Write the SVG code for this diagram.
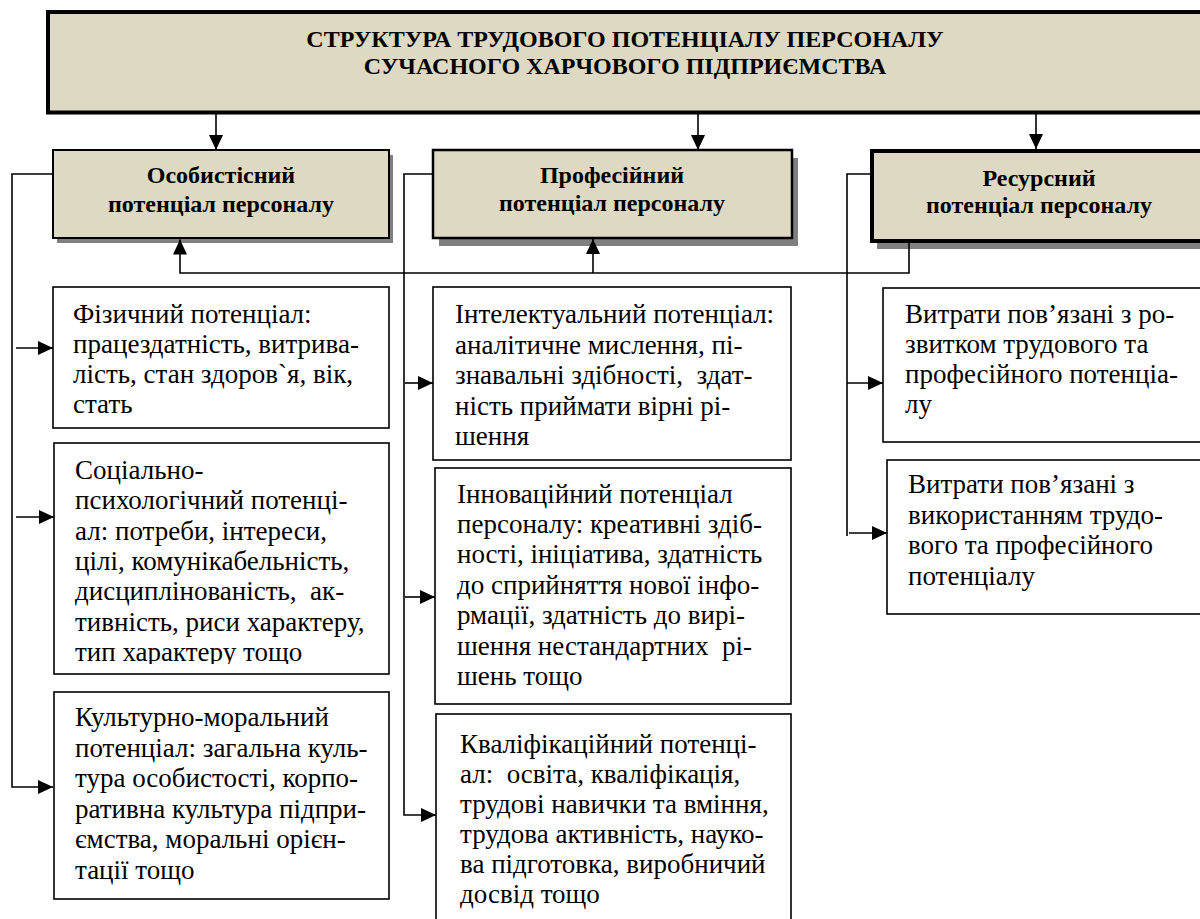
<svg xmlns="http://www.w3.org/2000/svg" width="1200" height="919" viewBox="0 0 1200 919" font-family="Liberation Serif, DejaVu Serif, serif">
<style>
  .hdr { fill: #DDD9C3; stroke: #000; }
  .shadow { fill: #808080; stroke: none; }
  .box { fill: #fff; stroke: #000; stroke-width: 1.6; }
  .ttl { font-family: 'Liberation Serif', serif; font-weight: bold; font-size: 24px; text-anchor: middle; fill: #000; }
  .lbl { font-family: 'Liberation Serif', serif; font-weight: bold; font-size: 24px; text-anchor: middle; fill: #000; }
  .txt { font-family: 'Liberation Serif', serif; font-size: 27px; fill: #000; white-space: pre; }
  .ln { fill: none; stroke: #000; stroke-width: 1.6; }
  .arr { fill: none; stroke: #000; stroke-width: 1.6; marker-end: url(#ah); }
</style>
<defs>
  <marker id="ah" markerUnits="userSpaceOnUse" markerWidth="16" markerHeight="14" refX="15" refY="7" orient="auto">
    <path d="M0,0 L15,7 L0,14 z" fill="#000"/>
  </marker>
  <clipPath id="clipSoc"><rect x="54" y="443" width="335" height="221"/></clipPath>
</defs>
<rect width="1200" height="919" fill="#fff"/>

<g id="title">
  <rect class="hdr" x="48" y="12" width="1170" height="100.5" stroke-width="4"/>
  <text class="ttl" x="625" y="47" font-family="Liberation Serif, serif">СТРУКТУРА ТРУДОВОГО ПОТЕНЦІАЛУ ПЕРСОНАЛУ</text>
  <text class="ttl" x="625" y="74" font-family="Liberation Serif, serif">СУЧАСНОГО ХАРЧОВОГО ПІДПРИЄМСТВА</text>
</g>

<g id="osobystisnyi">
  <rect class="shadow" x="57" y="155" width="336" height="88"/>
  <rect class="hdr" x="53" y="150" width="336" height="88" stroke-width="2"/>
  <text class="lbl" x="221" y="183">Особистісний</text>
  <text class="lbl" x="221" y="212">потенціал персоналу</text>
</g>

<g id="profesiinyi">
  <rect class="shadow" x="439" y="158" width="359" height="88"/>
  <rect class="hdr" x="433" y="150" width="359" height="88" stroke-width="2.5"/>
  <text class="lbl" x="612" y="183">Професійний</text>
  <text class="lbl" x="612" y="211">потенціал персоналу</text>
</g>

<g id="resursnyi">
  <rect class="shadow" x="877" y="159" width="340" height="90"/>
  <rect class="hdr" x="872" y="151" width="340" height="90" stroke-width="4"/>
  <text class="lbl" x="1039" y="186">Ресурсний</text>
  <text class="lbl" x="1039" y="213">потенціал персоналу</text>
</g>

<g id="fizychnyi">
  <rect class="box" x="53" y="287" width="336" height="141"/>
  <text class="txt" x="73" y="323">Фізичний потенціал:</text>
  <text class="txt" x="73" y="353">працездатність, витрива-</text>
  <text class="txt" x="73" y="383">лість, стан здоров`я, вік,</text>
  <text class="txt" x="73" y="413">стать</text>
</g>

<g id="sotsialno">
  <rect class="box" x="54" y="443" width="335" height="231"/>
  <g clip-path="url(#clipSoc)">
    <text class="txt" x="75" y="479">Соціально-</text>
    <text class="txt" x="75" y="509">психологічний потенці-</text>
    <text class="txt" x="75" y="539.5">ал: потреби, інтереси,</text>
    <text class="txt" x="75" y="570">цілі, комунікабельність,</text>
    <text class="txt" x="75" y="600">дисциплінованість,  ак-</text>
    <text class="txt" x="75" y="630.5">тивність, риси характеру,</text>
    <text class="txt" x="75" y="661">тип характеру тощо</text>
  </g>
</g>

<g id="kulturno">
  <rect class="box" x="54" y="692" width="335" height="207"/>
  <text class="txt" x="75" y="726">Культурно-моральний</text>
  <text class="txt" x="75" y="756.5">потенціал: загальна куль-</text>
  <text class="txt" x="75" y="787">тура особистості, корпо-</text>
  <text class="txt" x="75" y="817.5">ративна культура підпри-</text>
  <text class="txt" x="75" y="848">ємства, моральні орієн-</text>
  <text class="txt" x="75" y="878.5">тації тощо</text>
</g>

<g id="intelektualnyi">
  <rect class="box" x="433" y="287" width="358" height="173"/>
  <text class="txt" x="455" y="323">Інтелектуальний потенціал:</text>
  <text class="txt" x="455" y="353.5">аналітичне мислення, пі-</text>
  <text class="txt" x="455" y="384">знавальні здібності,  здат-</text>
  <text class="txt" x="455" y="414.5">ність приймати вірні рі-</text>
  <text class="txt" x="455" y="445">шення</text>
</g>

<g id="innovatsiinyi">
  <rect class="box" x="435" y="468" width="356" height="236"/>
  <text class="txt" x="457" y="502.5">Інноваційний потенціал</text>
  <text class="txt" x="457" y="533">персоналу: креативні здіб-</text>
  <text class="txt" x="457" y="563">ності, ініціатива, здатність</text>
  <text class="txt" x="457" y="593.5">до сприйняття нової інфо-</text>
  <text class="txt" x="457" y="624">рмації, здатність до вирі-</text>
  <text class="txt" x="457" y="654.5">шення нестандартних  рі-</text>
  <text class="txt" x="457" y="685">шень тощо</text>
</g>

<g id="kvalifikatsiinyi">
  <rect class="box" x="436" y="714" width="355" height="215"/>
  <text class="txt" x="460" y="753">Кваліфікаційний потенці-</text>
  <text class="txt" x="460" y="783">ал:  освіта, кваліфікація,</text>
  <text class="txt" x="460" y="813">трудові навички та вміння,</text>
  <text class="txt" x="460" y="843">трудова активність, науко-</text>
  <text class="txt" x="460" y="873">ва підготовка, виробничий</text>
  <text class="txt" x="460" y="903">досвід тощо</text>
</g>

<g id="vytraty-rozvytok">
  <rect class="box" x="883" y="288" width="330" height="154"/>
  <text class="txt" x="905" y="323">Витрати пов’язані з ро-</text>
  <text class="txt" x="905" y="353">звитком трудового та</text>
  <text class="txt" x="905" y="383">професійного потенціа-</text>
  <text class="txt" x="905" y="413">лу</text>
</g>

<g id="vytraty-vykorystannia">
  <rect class="box" x="887" y="460" width="330" height="154"/>
  <text class="txt" x="908" y="493">Витрати пов’язані з</text>
  <text class="txt" x="908" y="523.5">використанням трудо-</text>
  <text class="txt" x="908" y="554">вого та професійного</text>
  <text class="txt" x="908" y="584.5">потенціалу</text>
</g>

<g id="connectors">
  <path class="arr" d="M216,114 V150"/>
  <path class="arr" d="M698,114 V150"/>
  <path class="arr" d="M1036,114 V149"/>

  <path class="arr" d="M53,174 H12 V787 H53"/>
  <path class="arr" d="M16,348 H53"/>
  <path class="arr" d="M16,517 H54"/>

  <path class="arr" d="M433,174 H404 V815 H436"/>
  <path class="arr" d="M405,383 H433"/>
  <path class="arr" d="M405,597 H435"/>

  <path class="ln" d="M872,174 H847 V536"/>
  <path class="arr" d="M847,383 H883"/>
  <path class="arr" d="M849,533 H887"/>

  <path class="arr" d="M909,243 V273 H180 V239.5"/>
  <path class="arr" d="M593,273 V239"/>
</g>
</svg>
